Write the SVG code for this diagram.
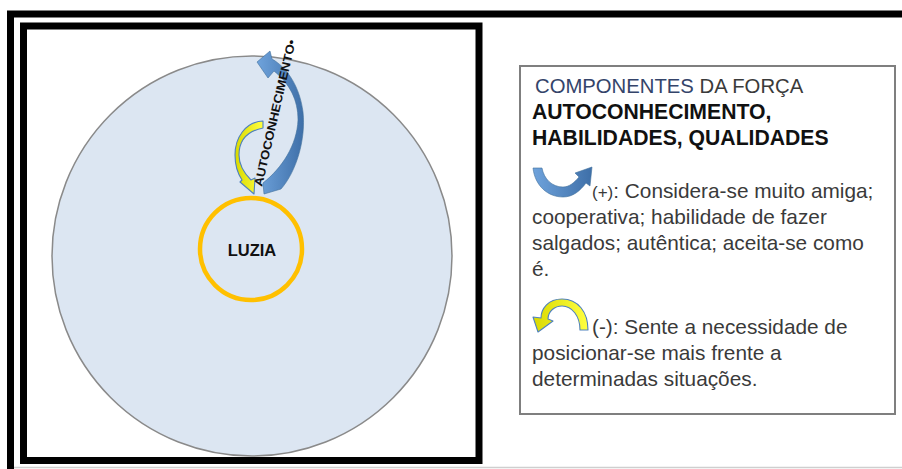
<svg xmlns="http://www.w3.org/2000/svg" width="902" height="469" viewBox="0 0 902 469">
<defs>
<style>
.frame{fill:none;stroke:#000;stroke-width:7}
.body{font-family:"Liberation Sans",Arial,sans-serif;font-size:20.8px;fill:#3a3a3a}
.bold{font-family:"Liberation Sans",Arial,sans-serif;font-size:21.2px;font-weight:bold;fill:#111}
.yarrow{fill:url(#yg);stroke:#4f81bd;stroke-width:1.1;stroke-linejoin:round}
.barrow{fill:url(#bg);stroke:#41719c;stroke-width:0.6}
</style>
<linearGradient id="bg" x1="0" y1="0" x2="1" y2="0">
<stop offset="0" stop-color="#6fa3dc"/>
<stop offset="1" stop-color="#3e6fa8"/>
</linearGradient>
<linearGradient id="yg" x1="0" y1="0" x2="1" y2="0">
<stop offset="0" stop-color="#d9d900"/>
<stop offset="1" stop-color="#ffff40"/>
</linearGradient>
</defs>
<rect width="902" height="469" fill="#fff"/>
<g id="frames">
<rect class="frame" x="10.5" y="14" width="900" height="470"/>
<line x1="14" y1="467.5" x2="902" y2="467.5" stroke="#cfcfcf" stroke-width="1.5"/>
<rect class="frame" x="23.5" y="26" width="455.5" height="434.5"/>
</g>
<g id="circle-field">
<circle cx="252" cy="256" r="200" fill="#dce6f2" stroke="#8a8a8a" stroke-width="1.5"/>
</g>
<g id="node-luzia">
<circle cx="251" cy="249" r="51" fill="#dce6f2" stroke="#ffc000" stroke-width="4.5"/>
<text x="252" y="256" text-anchor="middle" font-family="'Liberation Sans',Arial,sans-serif" font-size="16.5" font-weight="bold" fill="#111">LUZIA</text>
</g>
<g id="connectors">
<path class="barrow" d="M257,62 L270,51 L272,59 C288,68 300,88 303,112 C306,140 296,172 281,189 L264,194 L263,183 C282,168 297,145 298,120 C298,100 290,84 274,71 L268,78 Z"/>
<path class="yarrow" d="M263,121 C245,122 235,138 235,155 C235,166 238,174 242,180 L240,182 L254,194 L255,178 L251,180 C243,172 239,163 239,155 C239,140 248,131 263,128 Z"/>
<text x="275" y="113" text-anchor="middle" dominant-baseline="central" transform="rotate(-77 275 113)" font-family="'Liberation Sans',Arial,sans-serif" font-size="12" font-weight="bold" fill="#111" textLength="150" lengthAdjust="spacingAndGlyphs">AUTOCONHECIMENTO•</text>
</g>
<g id="legend">
<rect x="520" y="66" width="375" height="348" fill="#fff" stroke="#7f7f7f" stroke-width="2"/>
<text x="535" y="93" class="body" style="font-size:20.3px"><tspan fill="#34446a">COMPONENTES</tspan> DA FORÇA</text>
<text x="532" y="119" class="bold">AUTOCONHECIMENTO,</text>
<text x="532" y="145" class="bold">HABILIDADES, QUALIDADES</text>
<path class="barrow" d="M533,168 C535,186 548,197 563,197 C573,197 580,191 586,183 L590,186 L592,167 L575,173 L579,177 C574,183 569,187 563,187 C552,187 544,179 542,168 Z"/>
<text x="592" y="198" class="body"><tspan style="font-size:17px">(+)</tspan>: Considera-se muito amiga;</text>
<text x="532" y="224" class="body">cooperativa; habilidade de fazer</text>
<text x="532" y="250" class="body">salgados; autêntica; aceita-se como</text>
<text x="532" y="276" class="body">é.</text>
<path class="yarrow" d="M588,330 C588,312 578,299 562,299 C548,299 541,309 541,318 L533,317 L538,332 L553,321 L548,319 C548,311 555,306 562,306 C572,306 580,316 580,330 Z"/>
<text x="592" y="334" class="body">(-): Sente a necessidade de</text>
<text x="532" y="360" class="body">posicionar-se mais frente a</text>
<text x="532" y="386" class="body">determinadas situações.</text>
</g>
</svg>
